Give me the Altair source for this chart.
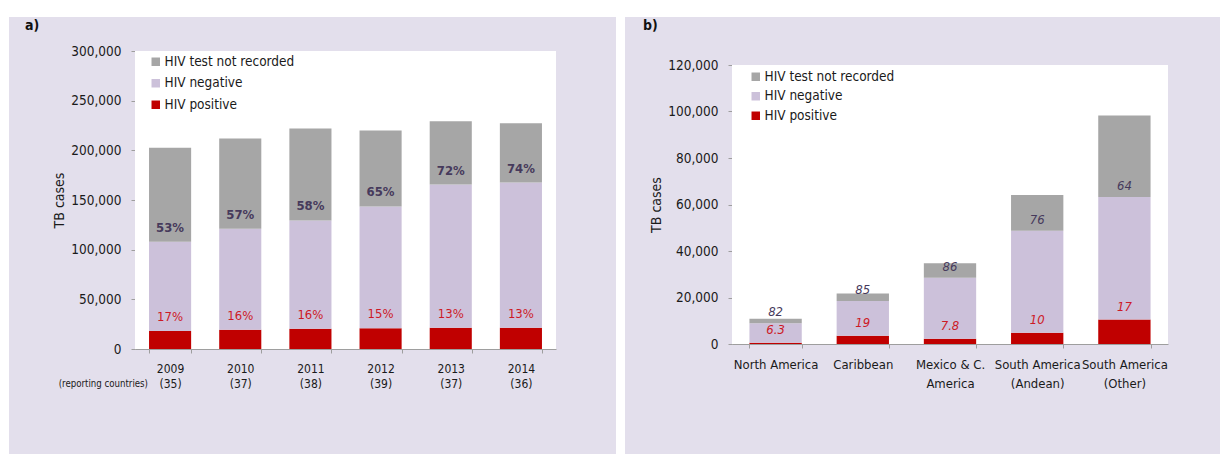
import altair as alt
import pandas as pd

FONT = "DejaVu Sans Condensed, DejaVu Sans, sans-serif"
PANEL_BG = "#E3DFEC"
GREY = "#A6A6A6"
LAVENDER = "#CCC1DA"
RED = "#C00000"
TESTED_TXT = "#463A5C"
POS_TXT = "#CC1A26"
AXIS_GREY = "#9E9E9E"
INK = "#1A1A1A"

STATUS = ["HIV test not recorded", "HIV negative", "HIV positive"]
STATUS_COLORS = [GREY, LAVENDER, RED]

# ---- Panel a: TB cases by HIV status, 2009-2014 ----
years = ["2009", "2010", "2011", "2012", "2013", "2014"]
reporting_countries = [35, 37, 38, 39, 37, 36]
a_positive = [18000, 19400, 20400, 21000, 21500, 21500]
a_negative = [90000, 101600, 109000, 122500, 144100, 146100]
a_not_recorded = [94500, 91000, 92600, 76500, 63700, 59700]
a_tested_pct = ["53%", "57%", "58%", "65%", "72%", "74%"]
a_positive_pct = ["17%", "16%", "16%", "15%", "13%", "13%"]
a_ticks = [0, 50000, 100000, 150000, 200000, 250000, 300000]

# ---- Panel b: TB cases by HIV status and subregion ----
regions = ["North America", "Caribbean", "Mexico & C.|America",
           "South America|(Andean)", "South America|(Other)"]
b_positive = [560, 3500, 2220, 4800, 10500]
b_negative = [8340, 15000, 26280, 43900, 52700]
b_not_recorded = [2000, 3200, 6200, 15400, 35100]
b_tested_pct = ["82", "85", "86", "76", "64"]
b_positive_pct = ["6.3", "19", "7.8", "10", "17"]
b_ticks = [0, 20000, 40000, 60000, 80000, 100000, 120000]


def long_table(cats, pos, neg, nrec):
    rows = []
    for c, p, n, r in zip(cats, pos, neg, nrec):
        rows.append({"cat": c, "status": "HIV positive", "value": p, "rank": 0})
        rows.append({"cat": c, "status": "HIV negative", "value": n, "rank": 1})
        rows.append({"cat": c, "status": "HIV test not recorded", "value": r, "rank": 2})
    return pd.DataFrame(rows)


def label_table(cats, pos, neg, tested_txt, pos_txt):
    return pd.DataFrame({
        "cat": cats,
        "pos_top": pos,
        "tested_top": [p + n for p, n in zip(pos, neg)],
        "tested_txt": tested_txt,
        "pos_txt": pos_txt,
    })


def panel(cats, bars, labels, ymax, ticks, geo, letter, extra=None):
    W, H = geo["W"], geo["H"]
    x0, x1, y0, y1 = geo["x0"], geo["x1"], geo["y0"], geo["y1"]

    x_enc = alt.X(
        "cat:N", sort=cats, title=None,
        scale=alt.Scale(range=[x0, x1], paddingInner=0.4, paddingOuter=0.2),
        axis=alt.Axis(orient="bottom", offset=y1 - H, tickBand="extent",
                      labelAngle=0, labelExpr="split(datum.label, '|')",
                      labelLineHeight=geo["line_h"],
                      labelFontSize=geo["xlabel_size"],
                      labelPadding=geo["xpad"], tickSize=4, labelFont=FONT,
                      labelColor=INK, domainColor=AXIS_GREY,
                      tickColor=AXIS_GREY),
    )
    y_scale = alt.Scale(domain=[0, ymax], range=[y1, y0], nice=False)
    y_axis = alt.Axis(title="TB cases", values=ticks, format=",d", grid=False,
                      offset=-x0, tickSize=4, labelPadding=10,
                      labelFontSize=13.5, labelFont=FONT, labelColor=INK,
                      titleFont=FONT, titleFontSize=14,
                      titleFontWeight="normal", titleColor=INK,
                      titlePadding=4, domainColor=AXIS_GREY,
                      tickColor=AXIS_GREY)

    one = pd.DataFrame({"t": [letter]})
    plot_bg = alt.Chart(one).mark_rect(color="white").encode(
        x=alt.value(x0), x2=alt.value(x1), y=alt.value(y0), y2=alt.value(y1))
    tag = alt.Chart(one).mark_text(
        font=FONT, fontSize=14, fontWeight="bold", align="left",
        baseline="middle", color="#111111").encode(
        text="t:N", x=alt.value(geo["tag_x"]), y=alt.value(9))

    stack = alt.Chart(bars).mark_bar().encode(
        x=x_enc,
        y=alt.Y("value:Q", stack="zero", scale=y_scale, axis=y_axis),
        color=alt.Color(
            "status:N",
            scale=alt.Scale(domain=STATUS, range=STATUS_COLORS),
            legend=alt.Legend(orient="none", legendX=geo["leg_x"],
                              legendY=geo["leg_y"], title=None,
                              symbolType="square", symbolSize=72,
                              symbolStrokeWidth=0, labelFont=FONT,
                              labelFontSize=13.5, labelColor=INK,
                              rowPadding=geo["leg_pad"], labelOffset=2,
                              padding=0),
        ),
        order=alt.Order("rank:Q", sort="ascending"),
    )

    style = "italic" if geo["italic"] else "normal"
    tested_lbl = alt.Chart(labels).mark_text(
        font=FONT, fontSize=13, fontStyle=style,
        fontWeight="normal" if geo["italic"] else "bold",
        color=TESTED_TXT, baseline="middle", dy=geo["dy_tested"]).encode(
        x=alt.X("cat:N", sort=cats), y=alt.Y("tested_top:Q"),
        text="tested_txt:N")
    pos_lbl = alt.Chart(labels).mark_text(
        font=FONT, fontSize=13, fontStyle=style, color=POS_TXT,
        baseline="middle", dy=geo["dy_pos"]).encode(
        x=alt.X("cat:N", sort=cats), y=alt.Y("pos_top:Q"),
        text="pos_txt:N")

    layers = [plot_bg, stack, tested_lbl, pos_lbl, tag]
    if extra is not None:
        layers.append(extra)
    return alt.layer(*layers).properties(width=W, height=H)


geo_a = dict(W=607, H=437, x0=126, x1=547, y0=34, y1=332, xpad=10,
             xlabel_size=12, line_h=15, italic=False,
             leg_x=140, leg_y=38, leg_pad=6.5, tag_x=16,
             dy_tested=-14, dy_pos=-14)
geo_b = dict(W=595, H=437, x0=107, x1=543, y0=48, y1=327, xpad=10,
             xlabel_size=13, line_h=19, italic=True,
             leg_x=124, leg_y=53, leg_pad=4.5, tag_x=18,
             dy_tested=-11, dy_pos=-13)

a_cats = [f"{y}|({n})" for y, n in zip(years, reporting_countries)]
reporting_note = alt.Chart(pd.DataFrame({"t": ["(reporting countries)"]})).mark_text(
    font=FONT, fontSize=9.6, align="right", baseline="middle",
    color=INK).encode(text="t:N", x=alt.value(139), y=alt.value(367))

chart_a = panel(
    a_cats,
    long_table(a_cats, a_positive, a_negative, a_not_recorded),
    label_table(a_cats, a_positive, a_negative, a_tested_pct, a_positive_pct),
    300000, a_ticks, geo_a, "a)", reporting_note)

chart_b = panel(
    regions,
    long_table(regions, b_positive, b_negative, b_not_recorded),
    label_table(regions, b_positive, b_negative, b_tested_pct, b_positive_pct),
    120000, b_ticks, geo_b, "b)")

chart = alt.hconcat(chart_a, chart_b, spacing=9).resolve_scale(
    color="independent").resolve_legend(color="independent").properties(
    padding={"left": 9, "top": 17, "right": 0, "bottom": 0},
    background="white",
).configure_view(stroke=None, fill=PANEL_BG)

chart.save("out.html", embed_options={"renderer": "svg", "actions": False})
